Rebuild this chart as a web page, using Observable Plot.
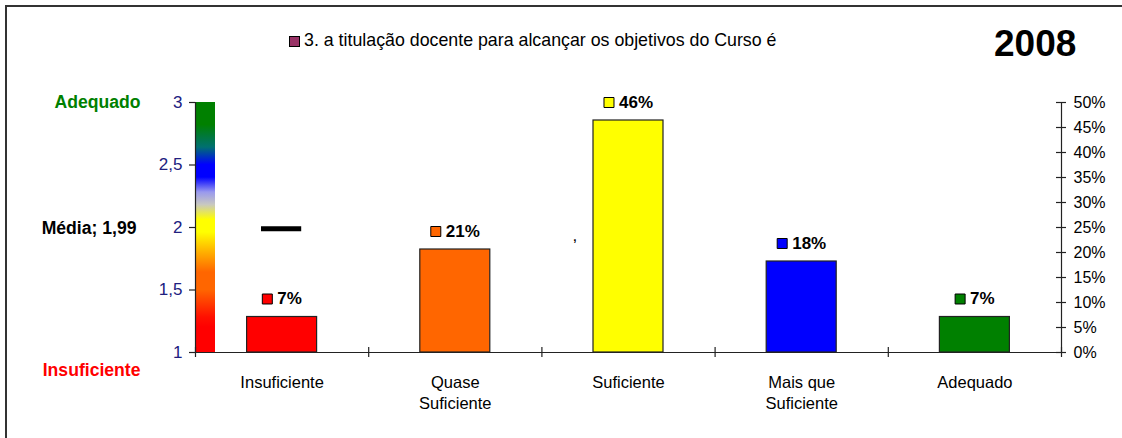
<!DOCTYPE html>
<html><head><meta charset="utf-8">
<script src="https://cdn.jsdelivr.net/npm/d3@7"></script>
<script src="https://cdn.jsdelivr.net/npm/@observablehq/plot@0.6"></script>
<style>
html,body{margin:0;padding:0;background:#fff;}
#wrap{position:relative;width:1122px;height:438px;overflow:hidden;font-family:"Liberation Sans",Arial,sans-serif;background:#fff;}
#chart{position:absolute;left:0;top:0;}
#frame{position:absolute;left:5px;top:5px;width:1300px;height:600px;border-top:2px solid #333;border-left:2px solid #333;pointer-events:none;}
#legend{position:absolute;left:289px;top:30px;height:20px;line-height:20px;font-size:17.8px;color:#000;white-space:nowrap;}
#legend .sw{display:inline-block;width:9px;height:9px;background:#993366;border:1px solid #000;margin-right:4px;vertical-align:-1px;}
#year{position:absolute;left:994px;top:24px;height:40px;line-height:40px;font-size:37px;font-weight:bold;color:#000;}
</style></head><body>
<div id="wrap">
  <div id="chart"></div>
  <div id="frame"></div>
  <div id="legend"><span class="sw"></span>3. a titulação docente para alcançar os objetivos do Curso é</div>
  <div id="year">2008</div>
</div>
<script>
// ---- data ----
const categories = ["Insuficiente", "Quase\nSuficiente", "Suficiente", "Mais que\nSuficiente", "Adequado"];
const shares = [0.071, 0.206, 0.464, 0.182, 0.071];
const barColors = ["#FF0000", "#FF6600", "#FFFF00", "#0000FF", "#008000"];
const scoreTicks = [1, 1.5, 2, 2.5, 3];
const pctTicks = [0, 0.05, 0.10, 0.15, 0.20, 0.25, 0.30, 0.35, 0.40, 0.45, 0.50];
const meanScore = 1.99;
const topLabel = "Adequado";
const bottomLabel = "Insuficiente";
const meanLabel = "Média; 1,99";
// gradient palette of the score bar (offset from top, colour)
const gradientStops = [
  [0.00, "#008000"], [0.09, "#008000"], [0.18, "#007070"], [0.25, "#0000FF"],
  [0.30, "#0000FF"], [0.36, "#9999EE"], [0.41, "#C8C8C0"], [0.47, "#FFFF00"],
  [0.52, "#FFFF00"], [0.60, "#FFB000"], [0.68, "#FF6600"], [0.75, "#FF6600"],
  [0.86, "#FF1000"], [0.90, "#FF0000"], [1.00, "#FF0000"]
];

// secondary axis: 0%..50% maps to score 1..3
const toScore = p => 1 + p / 0.5 * 2;
const boundaries = d3.range(categories.length + 1);
const nCat = categories.length;

const bars = categories.map((c, i) => ({
  c, i, share: shares[i], color: barColors[i],
  label: Math.round(shares[i] * 100) + "%"
}));

const ctx = document.createElement("canvas").getContext("2d");
ctx.font = "bold 17px 'Liberation Sans'";

const labelMarks = bars.flatMap(b => {
  const w = ctx.measureText(b.label).width;
  const g = 10 + 5 + w;
  return [
    Plot.dot([b], {x: d => d.i + 0.5, y: d => toScore(d.share), dy: -18, dx: -g / 2 + 5,
      symbol: "square", r: 5.64, fill: b.color, stroke: "#000", strokeWidth: 1}),
    Plot.text([b], {x: d => d.i + 0.5, y: d => toScore(d.share), dy: -18, dx: -g / 2 + 15,
      text: "label", textAnchor: "start", fontWeight: "bold", fontSize: 17})
  ];
});

const gradientDefs = () => {
  const defs = d3.create("svg:defs");
  const lg = defs.append("linearGradient").attr("id", "scoreGrad")
    .attr("x1", 0).attr("y1", 0).attr("x2", 0).attr("y2", 1);
  gradientStops.forEach(([o, c]) => lg.append("stop").attr("offset", o).attr("stop-color", c));
  return defs.node();
};

const chart = Plot.plot({
  width: 1122,
  height: 438,
  marginLeft: 195,
  marginRight: 61,
  marginTop: 102,
  marginBottom: 86,
  style: {fontFamily: "'Liberation Sans', Arial, sans-serif", fontSize: "17px", background: "transparent", overflow: "visible"},
  x: {type: "linear", domain: [0, nCat], axis: null},
  y: {domain: [1, 3], axis: null},
  color: {type: "identity"},
  marks: [
    gradientDefs,
    // colour scale bar
    Plot.rect([{lo: 1, hi: 3}], {x1: 0, x2: 0, y1: "lo", y2: "hi", insetRight: -20, fill: "url(#scoreGrad)"}),
    // bars
    Plot.rect(bars, {x1: d => d.i, x2: d => d.i + 1, y1: 1, y2: d => toScore(d.share),
      insetLeft: 51.6, insetRight: 51.6, fill: d => d.color, stroke: "#222", strokeWidth: 1.2}),
    // axes lines
    Plot.ruleY([1], {stroke: "#222", strokeWidth: 1.2}),
    Plot.ruleX([0, nCat], {stroke: "#222", strokeWidth: 1.2}),
    Plot.ruleX(boundaries, {y1: 1, y2: 1, insetTop: -5, insetBottom: -5, stroke: "#222", strokeWidth: 1.2}),
    // left axis
    Plot.ruleY(scoreTicks, {x1: 0, x2: 0, insetLeft: -6, stroke: "#222", strokeWidth: 1.2}),
    Plot.text(scoreTicks, {x: 0, y: d => d, text: d => String(d).replace(".", ","), textAnchor: "end", dx: -13,
      fill: "#20207f", fontSize: 17}),
    // right axis
    Plot.ruleY(pctTicks, {y: toScore, x1: nCat, x2: nCat, insetLeft: -5, insetRight: -5, stroke: "#222", strokeWidth: 1.2}),
    Plot.text(pctTicks, {x: nCat, y: toScore, text: d => Math.round(d * 100) + "%", textAnchor: "start", dx: 12,
      fill: "#000", fontSize: 16}),
    // mean marker
    Plot.ruleY([meanScore], {x1: 0, x2: 1, insetLeft: 66, insetRight: 67, stroke: "#000", strokeWidth: 5}),
    Plot.text([meanScore], {x: 2, y: d => d, text: () => ",", dx: 33, dy: 7, fontSize: 17, fill: "#000"}),
    // scale side labels
    Plot.text([3], {x: 0, y: d => d, text: () => topLabel, textAnchor: "end", dx: -55, fill: "#008000", fontWeight: "bold", fontSize: 17.6}),
    Plot.text([meanScore], {x: 0, y: d => d, text: () => meanLabel, textAnchor: "end", dx: -59, fill: "#000", fontWeight: "bold", fontSize: 17.6}),
    Plot.text([1], {x: 0, y: d => d, text: () => bottomLabel, textAnchor: "end", dx: -55, dy: 18, fill: "#FF0000", fontWeight: "bold", fontSize: 17.6}),
    // category labels
    Plot.text(bars, {x: d => d.i + 0.5, y: 1, text: "c", lineAnchor: "top", dy: 20, lineHeight: 1.3, fontSize: 16.5}),
    ...labelMarks
  ]
});
document.getElementById("chart").appendChild(chart);
</script>
</body></html>
